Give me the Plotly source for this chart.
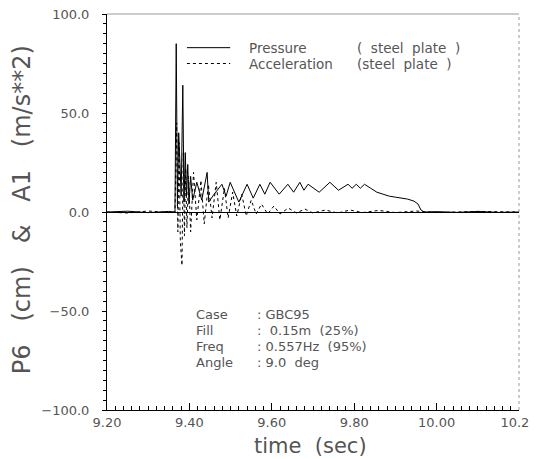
import plotly.graph_objects as go

# Pressure (steel plate)
p_time = [9.200, 9.250, 9.300, 9.350, 9.365, 9.368, 9.371, 9.374, 9.377, 9.380, 9.384, 9.387, 9.390,
          9.393, 9.396, 9.399, 9.403, 9.408, 9.418, 9.430, 9.443, 9.447, 9.460, 9.479, 9.489, 9.499,
          9.520, 9.540, 9.555, 9.571, 9.583, 9.596, 9.618, 9.639, 9.653, 9.668, 9.678, 9.688, 9.715,
          9.741, 9.762, 9.785, 9.795, 9.805, 9.815, 9.825, 9.840, 9.855, 9.870, 9.885, 9.900, 9.915,
          9.930, 9.945, 9.955, 9.962, 9.970, 10.00, 10.05, 10.10, 10.15, 10.20]
p_value = [0.0, 0.4, -0.3, 0.3, 0.0, 85, 3, 40, 25, 8, 64, 5, 30,
           8, 24, 4, 18, 6, 15, 6, 20, 5, 9, 14, 8, 15,
           5, 14, 7, 14, 9, 15, 9, 14, 10, 15, 11, 14, 10,
           15, 11, 14, 12, 14, 12, 14, 12, 10, 9, 8, 7.5, 7,
           6.5, 5.5, 4, 1, 0, 0.2, -0.2, 0.3, -0.2, 0.0]

# Acceleration (steel plate)
a_time = [9.200, 9.250, 9.300, 9.350, 9.365, 9.369, 9.372, 9.375, 9.378, 9.382, 9.385, 9.388, 9.391,
          9.394, 9.398, 9.403, 9.410, 9.418, 9.428, 9.436, 9.446, 9.455, 9.465, 9.474, 9.485, 9.494,
          9.505, 9.515, 9.527, 9.538, 9.550, 9.562, 9.575, 9.590, 9.605, 9.620, 9.640, 9.660, 9.680,
          9.700, 9.730, 9.760, 9.790, 9.820, 9.860, 9.900, 9.950, 10.00, 10.10, 10.20]
a_value = [0, -0.5, 0.5, -0.3, 0, 45, -10, 35, -15, -27, 30, -12, 22,
           -8, 18, -10, 20, -4, 16, -6, 14, -3, 15, -4, 12, -3,
           10, -2, 9, -2, 6, -1, 4, -1, 3, -1, 2, -0.5, 1.5,
           -0.5, 1, -0.5, 1, -0.3, 0.8, -0.3, 0.5, -0.3, 0.3, 0]

y_ticks = [-100, -50, 0, 50, 100]
y_tick_labels = ["\u2212100.0", "\u221250.0", "0.0", "50.0", "100.0"]
x_ticks = [9.2, 9.4, 9.6, 9.8, 10.0, 10.2]
x_tick_labels = ["9.20", "9.40", "9.60", "9.80", "10.00", "10.20"]

legend_names = ["Pressure", "Acceleration"]
legend_tags = ["(  steel  plate  )", "(steel  plate  )"]
info_labels = ["Case", "Fill", "Freq", "Angle"]
info_values = [": GBC95", ":  0.15m  (25%)", ": 0.557Hz  (95%)", ": 9.0  deg"]
x_title = "time  (sec)"
y_title = "P6   (cm)   &   A1   (m/s**2)"

FONT = "DejaVu Sans"
TXT = "#555555"

fig = go.Figure()
fig.add_trace(go.Scatter(x=p_time, y=p_value, mode="lines",
                         line=dict(color="black", width=1), name=legend_names[0]))
fig.add_trace(go.Scatter(x=a_time, y=a_value, mode="lines",
                         line=dict(color="black", width=1, dash="dot"), name=legend_names[1]))

# the page body adds an 8px offset, so the figure is drawn 8px smaller
fig.update_layout(
    width=529, height=451,
    margin=dict(l=99, r=18, t=6, b=49),
    paper_bgcolor="white", plot_bgcolor="white",
    showlegend=False,
    font=dict(family=FONT, color=TXT),
)
fig.update_xaxes(
    range=[9.2, 10.2], showgrid=False, zeroline=False, automargin=False,
    showline=True, linecolor="black", linewidth=1,
    tickmode="array", tickvals=x_ticks, ticktext=x_tick_labels,
    ticks="inside", ticklen=7, tickcolor="black",
    minor=dict(dtick=0.02, ticks="inside", ticklen=4, tickcolor="black", showgrid=False),
    tickfont=dict(size=13, color=TXT, family=FONT),
    ticklabelstandoff=0, ticklabeloverflow="allow",
)
fig.update_yaxes(
    range=[-100, 100], showgrid=False, zeroline=True, zerolinecolor="black", zerolinewidth=1,
    automargin=False,
    showline=True, linecolor="black", linewidth=1,
    tickmode="array", tickvals=y_ticks, ticktext=y_tick_labels,
    ticks="outside", ticklen=4, tickcolor="black",
    minor=dict(dtick=5, ticks="outside", ticklen=3, tickcolor="black", showgrid=False),
    tickfont=dict(size=13, color=TXT, family=FONT),
    ticklabelstandoff=10, ticklabeloverflow="allow",
)

# axis titles
fig.add_annotation(xref="paper", yref="paper", x=0.493, y=-0.092, text=x_title,
                   showarrow=False, xanchor="center", yanchor="middle",
                   font=dict(size=21, color=TXT, family=FONT))
fig.add_annotation(xref="paper", yref="paper", x=-0.206, y=0.505, text=y_title, textangle=-90,
                   showarrow=False, xanchor="center", yanchor="middle",
                   font=dict(size=24, color=TXT, family=FONT))

# faint top and right frame
fig.add_shape(type="line", xref="paper", yref="paper", x0=0, x1=1, y0=1, y1=1,
              line=dict(color="#999999", width=1))
fig.add_shape(type="line", xref="paper", yref="paper", x0=1, x1=1, y0=0, y1=1,
              line=dict(color="#999999", width=1, dash="dot"))

# legend
leg_y = [0.915, 0.875]
dashes = ["solid", "dot"]
for i in range(2):
    fig.add_shape(type="line", xref="paper", yref="paper", x0=0.194, x1=0.299, y0=leg_y[i], y1=leg_y[i],
                  line=dict(color="black", width=1, dash=dashes[i]))
    fig.add_annotation(xref="paper", yref="paper", x=0.340, y=leg_y[i], text=legend_names[i],
                       showarrow=False, xanchor="left", yanchor="middle",
                       font=dict(size=13.5, color=TXT, family=FONT))
    fig.add_annotation(xref="paper", yref="paper", x=0.602, y=leg_y[i], text=legend_tags[i],
                       showarrow=False, xanchor="left", yanchor="middle",
                       font=dict(size=13.5, color=TXT, family=FONT))

# info block
info_y = [0.240, 0.200, 0.160, 0.120]
for i in range(4):
    fig.add_annotation(xref="paper", yref="paper", x=0.211, y=info_y[i], text=info_labels[i],
                       showarrow=False, xanchor="left", yanchor="middle",
                       font=dict(size=13, color=TXT, family=FONT))
    fig.add_annotation(xref="paper", yref="paper", x=0.359, y=info_y[i], text=info_values[i],
                       showarrow=False, xanchor="left", yanchor="middle",
                       font=dict(size=13, color=TXT, family=FONT))

fig.write_html("out.html")
